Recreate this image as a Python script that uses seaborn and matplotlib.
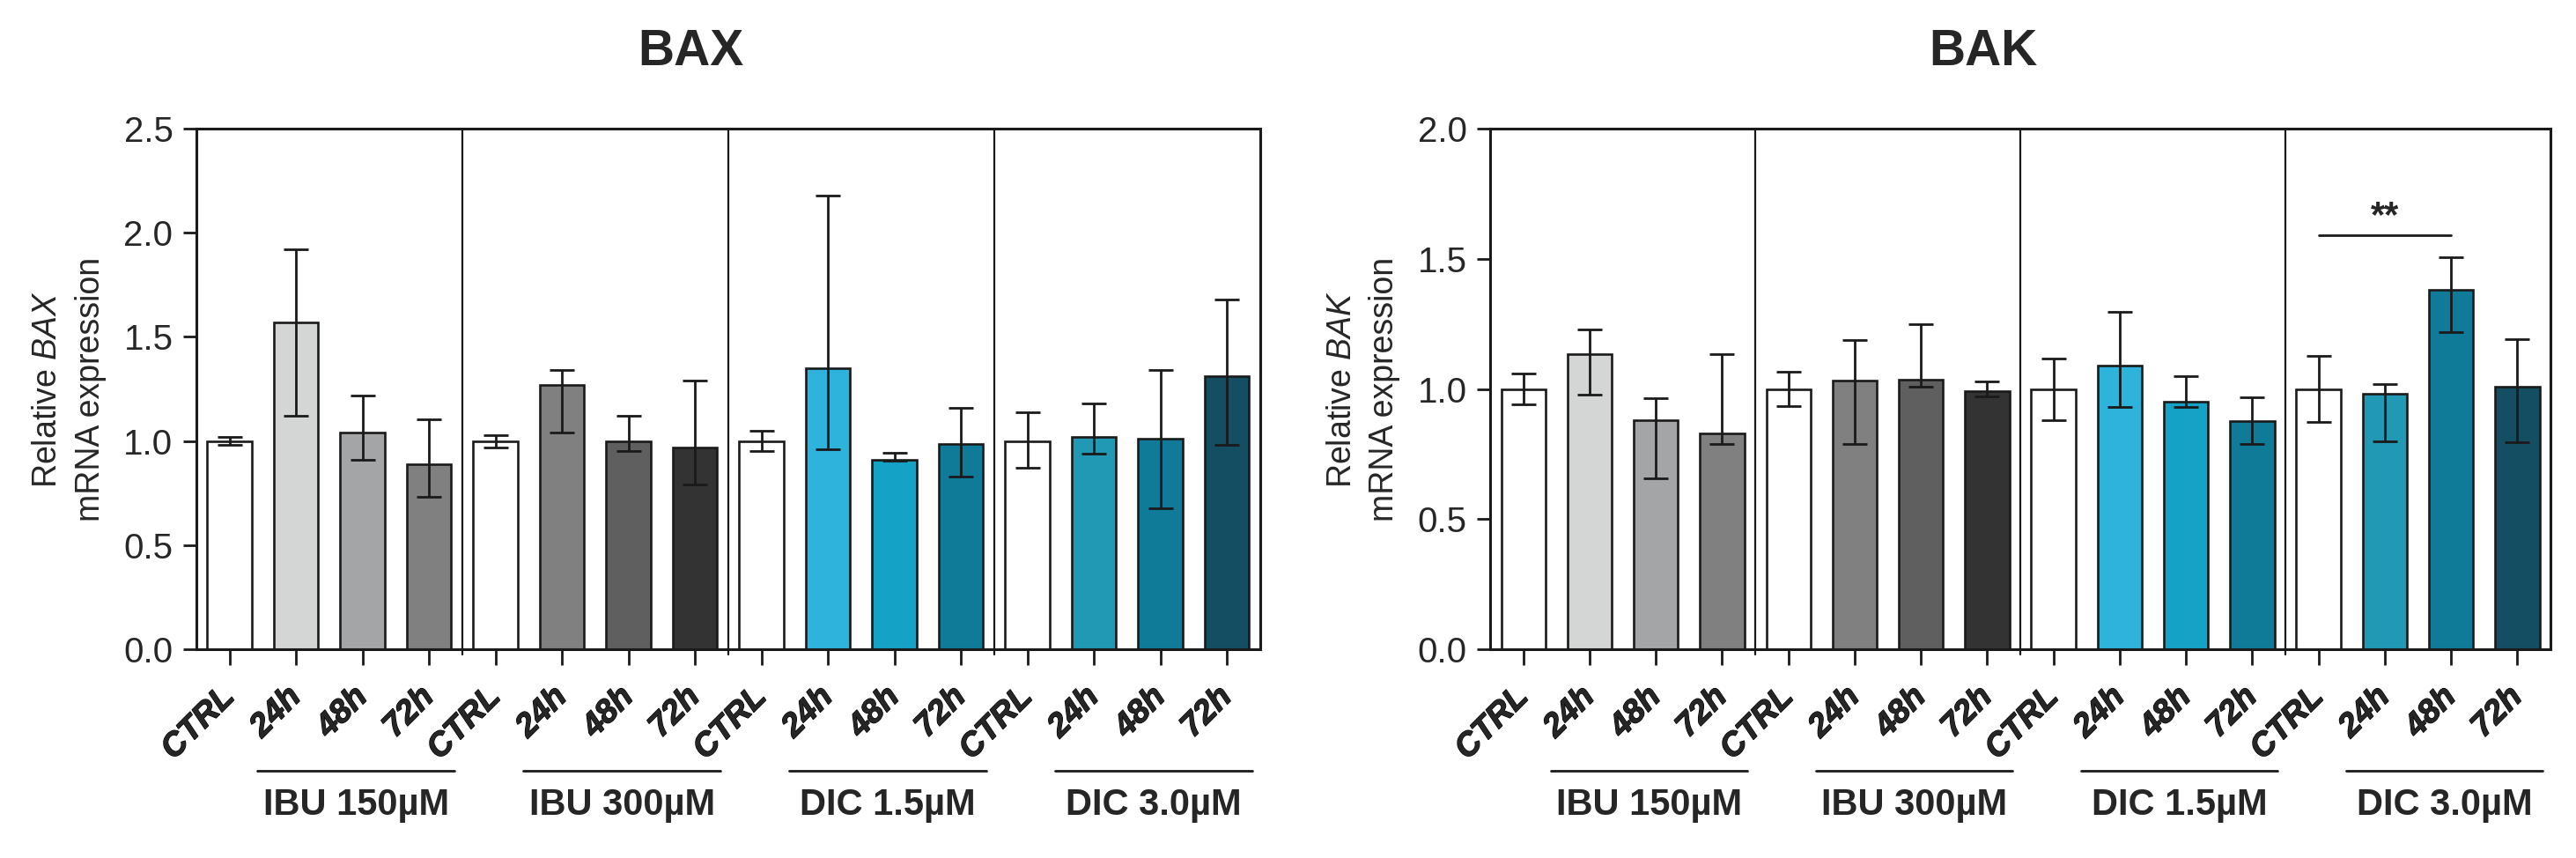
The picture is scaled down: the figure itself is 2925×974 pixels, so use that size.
import numpy as np
import pandas as pd
import matplotlib
matplotlib.use("Agg")
import matplotlib.pyplot as plt
import matplotlib.transforms as mtransforms
import matplotlib.patheffects as pe
from matplotlib import font_manager
import seaborn as sns

# =========================
# Data
# =========================
groups = ["IBU 150µM", "IBU 300µM", "DIC 1.5µM", "DIC 3.0µM"]
times = ["CTRL", "24h", "48h", "72h"]

bax_mean = [1.00, 1.57, 1.04, 0.89, 1.00, 1.27, 1.00, 0.97,
            1.00, 1.35, 0.91, 0.985, 1.00, 1.02, 1.01, 1.31]
bax_hi = [1.02, 1.92, 1.22, 1.105, 1.03, 1.34, 1.12, 1.29,
          1.05, 2.18, 0.945, 1.16, 1.14, 1.18, 1.34, 1.68]
bax_lo = [0.98, 1.12, 0.91, 0.73, 0.97, 1.04, 0.95, 0.79,
          0.95, 0.96, 0.905, 0.83, 0.87, 0.94, 0.675, 0.98]

bak_mean = [1.00, 1.133, 0.88, 0.83, 1.00, 1.033, 1.037, 0.99,
            1.00, 1.09, 0.95, 0.875, 1.00, 0.982, 1.38, 1.007]
bak_hi = [1.06, 1.228, 0.963, 1.133, 1.066, 1.188, 1.25, 1.03,
          1.117, 1.295, 1.05, 0.967, 1.127, 1.02, 1.507, 1.192]
bak_lo = [0.94, 0.978, 0.657, 0.79, 0.934, 0.787, 1.01, 0.97,
          0.88, 0.93, 0.93, 0.787, 0.873, 0.80, 1.217, 0.797]

bar_colors = ["#ffffff", "#d4d6d6", "#a4a5a7", "#808080",
              "#ffffff", "#808080", "#5f5f5f", "#333333",
              "#ffffff", "#2eb4dc", "#14a3c6", "#0f7b99",
              "#ffffff", "#2199b4", "#0f7b99", "#134e62"]

# significance bracket in BAK panel: DIC 3.0 CTRL vs 48h
sig_from, sig_to, sig_y, sig_text = 12, 14, 1.59, "**"

# =========================
# Style
# =========================
sns.set_style("ticks")
plt.rcParams["font.family"] = ["Liberation Sans", "DejaVu Sans"]
plt.rcParams["mathtext.fontset"] = "custom"
plt.rcParams["mathtext.rm"] = "Liberation Sans"
plt.rcParams["mathtext.it"] = "Liberation Sans:italic"
plt.rcParams["mathtext.bf"] = "Liberation Sans:bold"

# condensed face for the tick labels if it is there
try:
    font_manager.findfont("Liberation Sans Narrow", fallback_to_default=False)
    narrow = ["Liberation Sans Narrow", "Liberation Sans"]
except Exception:
    narrow = ["Liberation Sans", "DejaVu Sans"]

keys = [f"{g}|{t}" for g in groups for t in times]
tick_labels = [t for g in groups for t in times]
palette = dict(zip(keys, bar_colors))

fig = plt.figure(figsize=(29.25, 9.74), dpi=100)
ax_bax = fig.add_axes([0.0762, 0.2433, 0.4130, 0.6068])
ax_bak = fig.add_axes([0.5785, 0.2433, 0.4116, 0.6068])


def draw_panel(ax, title, gene, mean, lo, hi, ymax):
    df = pd.DataFrame({"key": keys, "value": mean})
    sns.barplot(data=df, x="key", y="value", hue="key", order=keys,
                palette=palette, legend=False, width=0.67, saturation=1,
                edgecolor="#1a1a1a", linewidth=1.9, errorbar=None, ax=ax)

    x = np.arange(len(keys))
    m = np.array(mean)
    yerr = np.vstack([m - np.array(lo), np.array(hi) - m])
    ax.errorbar(x, m, yerr=yerr, fmt="none", ecolor="#1a1a1a",
                elinewidth=2.0, capsize=10, capthick=2.0, zorder=5)

    # group separators
    for sep in [3.5, 7.5, 11.5]:
        ax.axvline(sep, ymin=-0.01, ymax=1, color="#1a1a1a", lw=1.6,
                   clip_on=False, zorder=1)

    ax.set_xlim(-0.5, 15.5)
    ax.set_ylim(0, ymax)
    ax.set_yticks(np.arange(0, ymax + 0.01, 0.5))
    ax.yaxis.set_major_formatter(matplotlib.ticker.FormatStrFormatter("%.1f"))
    for lab in ax.get_yticklabels():
        lab.set_fontfamily(narrow)
        lab.set_fontsize(29)

    ax.set_xticks(x)
    ax.set_xticklabels(tick_labels, rotation=45, ha="right", va="center",
                       rotation_mode="anchor", fontsize=27,
                       fontweight="bold", fontstyle="italic",
                       fontfamily=narrow)
    for lab in ax.get_xticklabels():
        lab.set_path_effects([pe.withStroke(linewidth=0.9, foreground="black")])
    ax.tick_params(axis="x", length=13, width=2, pad=22, color="#1a1a1a")
    ax.tick_params(axis="y", length=11, width=2, pad=8, color="#1a1a1a")

    for sp in ax.spines.values():
        sp.set_visible(True)
        sp.set_linewidth(2.2)
        sp.set_color("#1a1a1a")

    ax.set_xlabel("")
    ax.set_ylabel("Relative $\\mathit{" + gene + "}$\nmRNA expression",
                  fontsize=27, labelpad=14, linespacing=1.45)
    ax.set_title(title, fontsize=41, fontweight="bold", x=0.465, pad=52)

    # group annotation lines and labels below tick labels
    trans = mtransforms.blended_transform_factory(ax.transData, ax.transAxes)
    for gi, g in enumerate(groups):
        x0 = gi * 4 + 0.42
        x1 = gi * 4 + 3.38
        ax.plot([x0, x1], [-0.233, -0.233], color="#1a1a1a", lw=2.0,
                transform=trans, clip_on=False)
        ax.text((x0 + x1) / 2, -0.30, g, transform=trans, ha="center",
                va="center", fontsize=30, fontweight="bold")


draw_panel(ax_bax, "BAX", "BAX", bax_mean, bax_lo, bax_hi, 2.5)
draw_panel(ax_bak, "BAK", "BAK", bak_mean, bak_lo, bak_hi, 2.0)

# significance bracket
ax_bak.plot([sig_from, sig_to], [sig_y, sig_y], color="#1a1a1a", lw=2.0)
ax_bak.text((sig_from + sig_to) / 2, sig_y + 0.005, sig_text, ha="center",
            va="bottom", fontsize=30, fontweight="bold")

fig.savefig("out.png", dpi=100, facecolor="white")
